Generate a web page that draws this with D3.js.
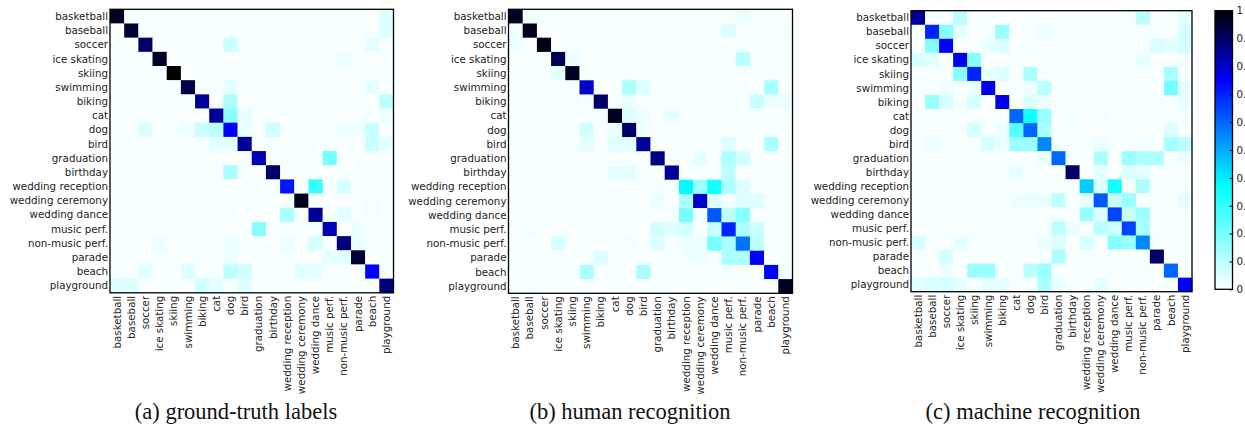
<!DOCTYPE html>
<html>
<head>
<meta charset="utf-8">
<script src="https://cdn.jsdelivr.net/npm/d3@7"></script>
<style>
  body { margin: 0; background: #fff; }
  svg { display: block; }
  .lbl { font-family: "DejaVu Sans", sans-serif; font-size: 10.3px; fill: #222; }
  .cap { font-family: "Liberation Serif", serif; font-size: 22.5px; fill: #111; }
</style>
</head>
<body>
<div id="chart"></div>
<script>
const categories = [
  "basketball", "baseball", "soccer", "ice skating", "skiing", "swimming", "biking",
  "cat", "dog", "bird", "graduation", "birthday", "wedding reception",
  "wedding ceremony", "wedding dance", "music perf.", "non-music perf.",
  "parade", "beach", "playground"
];

// values in percent, rows = true class, columns = predicted class
const groundTruth = [
  [97,1,1,1,1,1,1,1,1,1,1,1,1,1,1,1,1,1,1,5],
  [1,95,1,1,1,1,1,1,1,1,1,1,1,1,1,1,1,1,1,5],
  [1,1,90,1,1,1,1,1,8,1,1,1,1,1,1,1,1,1,4,1],
  [1,1,1,96,1,1,1,1,1,1,1,1,1,1,1,1,3,1,1,1],
  [1,1,1,1,100,1,1,1,1,1,1,1,1,1,1,1,1,1,1,1],
  [1,1,1,1,1,93,1,1,4,1,1,1,1,1,1,1,1,1,4,1],
  [1,1,1,1,1,1,85,1,12,1,1,1,1,1,1,1,1,1,1,10],
  [1,1,1,1,1,1,1,85,17,4,1,1,1,1,1,1,1,1,1,3],
  [1,1,5,1,1,3,8,10,75,3,1,7,1,1,1,1,3,3,8,1],
  [1,1,1,1,1,1,1,4,4,85,1,1,1,1,1,1,1,1,8,4],
  [1,1,1,1,1,1,1,1,1,1,82,1,1,1,1,20,1,1,1,1],
  [1,1,1,1,1,1,1,1,12,1,1,90,1,1,1,1,1,1,1,1],
  [1,1,1,1,1,1,1,1,1,1,1,1,72,1,30,1,6,1,1,1],
  [1,1,1,1,1,1,1,1,1,1,1,1,1,97,1,1,1,1,2,1],
  [1,1,1,1,1,1,1,1,1,1,1,1,12,1,85,1,4,1,2,1],
  [1,1,1,1,1,1,1,1,1,1,18,1,1,1,1,82,1,3,1,1],
  [1,1,1,3,1,1,1,1,3,1,1,1,3,1,6,1,88,3,1,1],
  [1,1,1,1,1,1,1,1,3,1,1,1,1,1,1,4,4,95,1,1],
  [1,1,4,1,1,5,1,1,10,7,1,1,1,4,4,1,1,1,75,1],
  [5,5,1,1,1,1,7,4,1,5,1,1,1,1,1,1,1,1,1,88]
];

const humanRecognition = [
  [97,2,2,1,1,1,1,1,1,1,1,1,1,1,1,1,3,1,1,1],
  [2,97,1,1,1,1,1,1,1,1,1,1,1,1,1,5,1,1,1,2],
  [3,1,98,1,1,1,1,1,1,1,1,1,1,1,1,1,2,1,1,1],
  [1,1,1,92,3,1,1,1,1,1,1,1,1,1,1,1,10,1,1,1],
  [1,1,1,4,97,1,1,1,1,1,1,1,1,1,1,1,1,1,1,1],
  [1,1,1,1,1,80,1,1,12,5,1,1,1,1,1,1,1,1,13,1],
  [1,1,1,1,2,1,90,1,3,1,1,1,1,1,1,1,1,8,3,3],
  [1,1,1,1,1,1,1,97,5,3,1,4,1,1,1,1,1,1,1,1],
  [1,1,1,1,1,7,1,3,90,2,1,1,1,1,1,1,1,1,1,1],
  [1,1,1,1,1,4,1,4,4,85,1,1,1,1,1,5,1,1,12,1],
  [1,1,1,1,1,1,1,1,1,1,87,1,1,4,1,12,7,1,1,1],
  [1,1,2,1,1,1,1,4,4,1,1,85,1,1,1,10,1,1,1,1],
  [1,1,1,1,1,1,1,1,1,1,1,1,38,15,35,12,5,1,1,1],
  [1,1,1,1,1,1,1,1,1,1,3,1,12,80,5,2,5,5,2,1],
  [1,1,1,1,1,1,1,1,1,1,1,1,20,2,62,10,18,1,1,1],
  [1,2,1,1,1,1,1,1,1,1,7,5,6,1,8,70,12,8,1,1],
  [1,1,1,6,1,1,1,1,2,1,5,1,3,3,20,13,58,10,1,1],
  [1,1,1,1,1,1,5,1,1,1,1,1,1,3,1,12,12,75,1,1],
  [1,1,1,1,1,12,1,1,1,12,1,1,1,1,1,2,1,1,75,2],
  [1,2,1,1,1,1,1,1,1,1,1,1,1,1,1,1,1,1,1,97]
];

const machineRecognition = [
  [85,1,1,10,1,1,1,1,1,1,1,1,1,1,1,1,10,1,1,4],
  [1,70,18,4,1,1,15,1,1,3,1,1,1,1,1,1,1,1,1,6],
  [1,18,75,1,1,3,5,1,2,1,1,1,1,1,1,1,1,6,4,6],
  [6,4,1,77,18,1,1,1,1,1,1,1,1,1,1,1,4,1,1,2],
  [1,1,1,18,70,3,5,1,12,1,1,1,1,1,1,1,1,1,13,1],
  [1,1,3,1,3,77,1,1,3,10,1,1,1,1,1,1,1,1,20,4],
  [1,15,6,1,6,1,77,1,5,3,1,1,1,1,1,1,1,1,1,4],
  [1,1,1,1,1,1,1,60,35,15,1,2,1,2,1,1,1,1,1,1],
  [1,1,1,1,6,1,3,25,60,12,1,1,1,1,1,1,1,1,5,1],
  [1,3,1,1,1,6,3,15,15,55,2,1,1,3,1,1,2,1,13,10],
  [1,1,1,1,1,1,1,1,1,3,60,1,1,12,1,15,12,12,1,3],
  [1,1,1,1,1,1,1,4,1,1,1,90,1,4,1,5,4,1,1,1],
  [1,1,1,1,1,1,1,1,1,1,1,1,45,5,35,1,12,1,1,1],
  [1,1,1,1,1,1,1,3,3,3,10,1,4,62,8,15,1,1,1,4],
  [1,1,1,1,1,1,1,1,1,1,1,1,15,5,65,8,15,1,1,1],
  [1,1,1,1,1,1,1,1,1,1,10,3,1,10,7,65,13,1,1,1],
  [6,1,1,4,1,1,1,1,1,3,5,1,6,1,18,15,55,1,1,1],
  [1,1,6,1,1,1,1,1,1,1,12,1,1,1,1,1,1,90,1,1],
  [1,1,3,1,15,15,1,1,10,15,1,1,1,1,1,1,1,1,60,1],
  [4,6,6,4,1,4,4,1,1,12,3,1,1,4,1,1,1,1,1,75]
];

const captions = ["(a) ground-truth labels", "(b) human recognition", "(c) machine recognition"];
const colorbarTicks = [0, 0.1, 0.2, 0.3, 0.4, 0.5, 0.6, 0.7, 0.8, 0.9, 1];

const W = 1245, H = 428;

const panels = [
  { data: groundTruth,        x: 110,   y: 9.3,  size: 283.5, capX: 236 },
  { data: humanRecognition,   x: 508.5, y: 9.3,  size: 284,   capX: 630 },
  { data: machineRecognition, x: 911,   y: 10.7, size: 281,   capX: 1033 }
];

const color = d3.scaleLinear()
  .domain([0, 0.375, 0.75, 1])
  .range(["#ffffff", "#00ffff", "#0000ff", "#000000"])
  .clamp(true);

const svg = d3.select('#chart').append('svg')
  .attr('width', W)
  .attr('height', H);

panels.forEach((p, pi) => {
  const g = svg.append('g').attr('transform', `translate(${p.x},${p.y})`);
  const xScale = d3.scaleBand().domain(categories).range([0, p.size]);
  const yScale = d3.scaleBand().domain(categories).range([0, p.size]);

  p.data.forEach((row, ri) => {
    row.forEach((v, ci) => {
      g.append('rect')
        .attr('x', xScale(categories[ci]))
        .attr('y', yScale(categories[ri]))
        .attr('width', xScale.bandwidth() + 0.3)
        .attr('height', yScale.bandwidth() + 0.3)
        .attr('fill', color(v / 100));
    });
  });

  g.append('rect')
    .attr('width', p.size)
    .attr('height', p.size)
    .attr('fill', 'none')
    .attr('stroke', '#000')
    .attr('stroke-width', 1.3);

  // row labels
  g.selectAll('.rowlbl')
    .data(categories)
    .enter()
    .append('text')
      .attr('class', 'lbl')
      .attr('x', -2)
      .attr('y', d => yScale(d) + yScale.bandwidth() / 2)
      .attr('dy', '0.35em')
      .attr('text-anchor', 'end')
      .text(d => d);

  // column labels, rotated
  g.selectAll('.collbl')
    .data(categories)
    .enter()
    .append('text')
      .attr('class', 'lbl')
      .attr('transform', d => `translate(${xScale(d) + xScale.bandwidth() / 2},${p.size + 3}) rotate(-90)`)
      .attr('dy', '0.35em')
      .attr('text-anchor', 'end')
      .text(d => d);

  svg.append('text')
    .attr('class', 'cap')
    .attr('x', p.capX)
    .attr('y', 419)
    .attr('text-anchor', 'middle')
    .text(captions[pi]);
});

// colorbar
const cb = { x: 1215, y: 10.7, w: 17.5, h: 278.6 };
const grad = svg.append('defs').append('linearGradient')
  .attr('id', 'cbgrad')
  .attr('x1', 0).attr('y1', 1).attr('x2', 0).attr('y2', 0);
color.domain().forEach(v => {
  grad.append('stop').attr('offset', v).attr('stop-color', color(v));
});
svg.append('rect')
  .attr('x', cb.x).attr('y', cb.y)
  .attr('width', cb.w).attr('height', cb.h)
  .attr('fill', 'url(#cbgrad)')
  .attr('stroke', '#000')
  .attr('stroke-width', 1.3);

const cbScale = d3.scaleLinear().domain([0, 1]).range([cb.y + cb.h, cb.y]);
const cbAxis = svg.append('g')
  .attr('transform', `translate(${cb.x + cb.w},0)`)
  .call(d3.axisRight(cbScale).tickValues(colorbarTicks).tickFormat(d3.format('~g'))
    .tickSizeInner(-3).tickSizeOuter(0).tickPadding(4));
cbAxis.select('.domain').remove();
cbAxis.selectAll('text').attr('class', 'lbl').attr('font-size', null).attr('font-family', null);
cbAxis.selectAll('line').attr('stroke', '#000');
</script>
</body>
</html>
